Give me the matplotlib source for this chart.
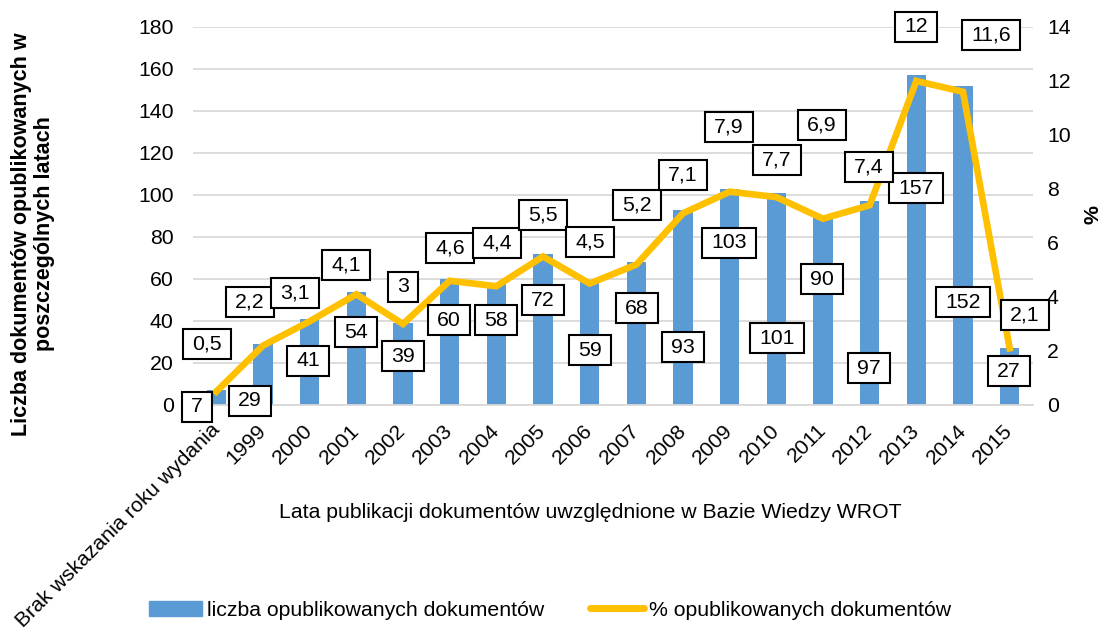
import matplotlib
matplotlib.use("Agg")
import matplotlib.pyplot as plt
from matplotlib.lines import Line2D
from matplotlib.patches import Patch
from matplotlib.path import Path

plt.rcParams['font.family'] = ['Liberation Sans', 'DejaVu Sans']

categories = ["Brak wskazania roku wydania", "1999", "2000", "2001", "2002", "2003",
              "2004", "2005", "2006", "2007", "2008", "2009", "2010", "2011",
              "2012", "2013", "2014", "2015"]
counts = [7, 29, 41, 54, 39, 60, 58, 72, 59, 68, 93, 103, 101, 90, 97, 157, 152, 27]
percents = [0.5, 2.2, 3.1, 4.1, 3.0, 4.6, 4.4, 5.5, 4.5, 5.2, 7.1, 7.9, 7.7, 6.9, 7.4, 12.0, 11.6, 2.1]
count_labels = [str(v) for v in counts]
percent_labels = ["0,5", "2,2", "3,1", "4,1", "3", "4,6", "4,4", "5,5", "4,5", "5,2",
                  "7,1", "7,9", "7,7", "6,9", "7,4", "12", "11,6", "2,1"]

# label placement (pixel centers in the reference, converted to data units)
count_lbl_px = [(197, 407), (250, 401), (308, 361), (356, 332), (403, 356), (449, 320),
                (496, 320), (543, 300), (590, 350), (637, 308), (683, 347), (729, 243),
                (777, 338), (822, 279), (869, 368), (916, 188), (963, 302), (1009, 371)]
pct_lbl_px = [(207, 344), (250, 302), (295, 293), (346, 265), (403, 287), (450, 248),
              (497, 243), (543, 215), (590, 242), (637, 205), (683, 175), (729, 127),
              (777, 160), (822, 125), (869, 167), (916, 27), (991, 35), (1025, 315)]

W, H = 1102, 630
fig = plt.figure(figsize=(W / 100, H / 100), dpi=100)
ax_l, ax_r, ax_t, ax_b = 193, 1033, 27, 405
ax = fig.add_axes([ax_l / W, 1 - ax_b / H, (ax_r - ax_l) / W, (ax_b - ax_t) / H])
ax2 = ax.twinx()

n = len(categories)
x = list(range(n))
bar_color = "#5B9BD5"
line_color = "#FFC000"
FS = 15.3

ax.bar(x, counts, width=0.42, color=bar_color, zorder=2)
ax.set_xlim(-0.5, n - 0.5)
ax.set_ylim(0, 180)
ax.set_yticks(range(0, 181, 20))
ax2.set_ylim(0, 14)
ax2.set_yticks(range(0, 15, 2))
ax2.plot(x, percents, color=line_color, lw=4.8, solid_joinstyle='miter', zorder=3)

ax.grid(axis='y', color="#D9D9D9", lw=1.3, zorder=0)
ax.set_axisbelow(True)
for a in (ax, ax2):
    for s in a.spines.values():
        s.set_visible(False)
    a.tick_params(length=0, labelsize=FS)
ax.spines['bottom'].set_visible(True)
ax.spines['bottom'].set_color("#D9D9D9")
ax.spines['bottom'].set_linewidth(1.3)
ax.tick_params(axis='y', pad=14)
ax2.tick_params(axis='y', pad=10)

ax.set_xticks(x)
ax.set_xticklabels(categories, rotation=45, ha='right', va='center',
                   rotation_mode='anchor', fontsize=FS)
ax.tick_params(axis='x', pad=16)


def px_to_data(px, py):
    xd = (px - ax_l) / (ax_r - ax_l) * n - 0.5
    yd = (ax_b - py) / (ax_b - ax_t) * 14
    return xd, yd


def label_box(x0, y0, width, height, mutation_size):
    px = 0.42 * mutation_size
    py = 0.26 * mutation_size
    x1, y1 = x0 - px, y0 - py
    x2, y2 = x0 + width + px, y0 + height + py
    return Path([(x1, y1), (x2, y1), (x2, y2), (x1, y2), (x1, y1)], closed=True)


box = dict(boxstyle=label_box, fc='white', ec='black', lw=1.5)
for lbl, (px, py) in zip(count_labels + percent_labels, count_lbl_px + pct_lbl_px):
    xd, yd = px_to_data(px, py)
    ax2.text(xd, yd, lbl, ha='center', va='center', fontsize=FS, bbox=box,
             zorder=5, clip_on=False)

fig.text(33 / W, 1 - 234 / H, "Liczba dokumentów opublikowanych w\nposzczególnych latach",
         rotation=90, ha='center', va='center', fontsize=15.5, fontweight='bold',
         multialignment='center', linespacing=1.15)
fig.text(1093 / W, 1 - 215 / H, "%", rotation=90, ha='center', va='center',
         fontsize=FS, fontweight='bold')
fig.text(590 / W, 1 - 512 / H, "Lata publikacji dokumentów uwzględnione w Bazie Wiedzy WROT",
         ha='center', va='center', fontsize=FS)

handles = [Patch(color=bar_color), Line2D([0], [0], color=line_color, lw=5, solid_capstyle='round')]
fig.legend(handles, ["liczba opublikowanych dokumentów", "% opublikowanych dokumentów"],
           loc='center', bbox_to_anchor=(550 / W, 1 - 610 / H), ncol=2, frameon=False,
           fontsize=FS, handlelength=2.5, handletextpad=0.25, columnspacing=2.15)

fig.savefig("out.png", dpi=100)
